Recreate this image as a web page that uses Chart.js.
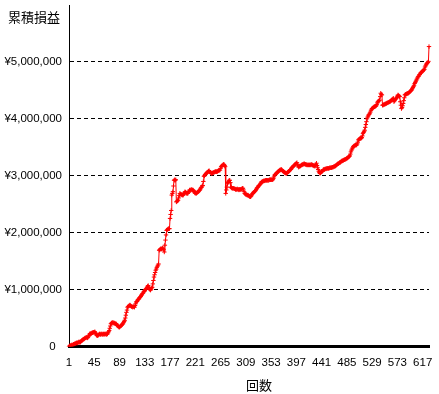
<!DOCTYPE html>
<html><head><meta charset="utf-8">
<script src="https://cdn.jsdelivr.net/npm/chart.js@4/dist/chart.umd.min.js"></script>
<style>html,body{margin:0;padding:0;background:#fff}canvas{display:block}</style>
</head><body>
<canvas id="c" width="439" height="394"></canvas>
<script>
const yAxisTitle = '累積損益';
const xAxisTitle = '回数';
// cumulative profit, in units of 10,000 yen (万円), one value per trade
const profitMan = [
0,1,1,2,2,3,2,3,4,4,5,5,6,6,7,6,7,8,8,7,
8,9,10,11,12,13,13,14,15,15,16,16,15,16,18,20,22,23,22,23,
24,24,25,25,25,26,24,22,20,19,19,20,21,22,22,21,22,22,21,22,
22,21,22,22,22,21,22,22,24,26,28,32,36,40,41,42,42,41,42,41,
40,40,40,39,37,36,35,34,34,35,36,37,38,39,40,42,44,46,50,55,
60,64,69,70,71,72,73,72,71,70,70,69,70,70,69,72,75,78,79,80,
82,83,84,86,87,88,90,91,93,94,96,97,98,100,101,102,104,106,107,104,
101,100,99,101,103,104,110,116,122,126,130,134,136,139,141,143,145,169,170,171,
172,171,172,173,172,170,166,178,187,196,204,205,206,207,207,207,225,232,239,266,
269,272,282,292,293,292,293,254,255,256,257,261,265,269,268,267,267,266,266,266,
268,270,272,271,270,269,269,269,271,273,275,274,275,276,275,275,275,274,272,270,
269,270,269,270,271,272,273,274,275,277,279,280,282,283,290,299,300,302,303,304,
305,306,307,308,309,307,306,305,304,304,305,305,306,306,307,307,308,307,307,308,
309,309,310,310,313,316,317,318,319,320,320,318,316,269,275,280,286,288,290,292,
292,288,280,279,278,278,278,278,277,277,276,276,276,277,276,276,275,276,276,276,
276,277,278,278,275,272,269,268,267,267,266,266,266,265,264,263,263,264,266,268,
269,270,271,272,273,274,276,278,279,280,282,283,284,285,287,289,289,290,290,291,
291,291,292,292,292,292,292,292,292,293,293,293,293,293,293,293,295,298,301,302,
303,304,305,306,307,308,309,310,310,311,311,310,309,308,307,306,305,305,304,304,
305,306,307,308,309,310,311,312,314,315,316,317,318,319,320,321,322,323,320,317,
315,316,317,317,318,319,319,320,320,321,321,320,320,320,319,319,319,319,319,319,
319,319,320,319,319,318,318,317,317,318,320,322,318,314,311,308,306,304,305,306,
307,308,309,311,311,311,312,312,312,313,313,313,313,313,314,314,314,314,315,315,
315,316,316,317,317,318,319,320,321,321,322,323,323,324,325,326,326,327,327,328,
328,329,329,330,331,331,332,333,334,335,338,342,345,347,349,351,352,353,353,354,
354,354,356,359,363,364,365,365,366,366,367,370,374,376,378,380,385,390,395,400,
403,405,407,408,410,412,415,417,418,419,420,421,421,422,422,423,425,428,430,431,
432,433,439,445,443,442,424,424,425,425,426,426,427,427,428,428,429,429,430,430,
431,432,433,434,435,436,430,432,434,435,436,438,440,442,441,440,439,430,424,418,
420,423,427,432,437,442,443,443,444,444,445,445,446,447,448,449,450,451,453,455,
457,459,462,464,466,468,470,472,474,475,477,478,480,481,482,483,484,485,486,487,
491,493,495,497,498,499,501,527
];
const categories = profitMan.map((_, i) => String(i + 1));
const xLabelEvery = 44;
const yMin = 0, yMax = 6000000, yStep = 1000000;

const tickFont = {family: '"Liberation Sans", Arial, sans-serif', size: 11.5};

const titlePlugin = {
  id: 'titles',
  beforeDraw(chart) {
    const c = chart.ctx; c.save(); c.fillStyle = '#fff';
    c.fillRect(0, 0, chart.width, chart.height); c.restore();
  },
  afterDraw(chart) {
    const c = chart.ctx; c.save();
    c.fillStyle = '#000';
    c.font = '13px "Noto Sans CJK JP", sans-serif';
    c.textBaseline = 'middle';
    c.textAlign = 'left';
    c.fillText(yAxisTitle, 8, 17);
    c.textAlign = 'center';
    c.fillText(xAxisTitle, 259, 385);
    c.restore();
  }
};

new Chart(document.getElementById('c'), {
  type: 'line',
  data: {
    labels: categories,
    datasets: [{
      data: profitMan.map(v => v * 10000),
      borderColor: '#ff0000',
      backgroundColor: '#ff0000',
      borderWidth: 1,
      pointStyle: 'cross',
      pointRadius: 2.2,
      pointBorderWidth: 1,
      pointBorderColor: '#ff0000',
      tension: 0,
      fill: false
    }]
  },
  options: {
    responsive: false,
    animation: false,
    events: [],
    layout: {padding: {top: 5, right: 10, bottom: 0, left: 0}},
    plugins: {legend: {display: false}, tooltip: {enabled: false}},
    scales: {
      x: {
        type: 'category',
        offset: false,
        grid: {display: false, drawTicks: false},
        border: {display: true, color: '#000', width: 3},
        ticks: {
          autoSkip: false, maxRotation: 0, minRotation: 0, padding: 9,
          color: '#000', font: tickFont,
          callback: function (v, i) { return i % xLabelEvery === 0 ? this.getLabelForValue(v) : ''; }
        },
        afterFit(s) { s.height = 47.5; }
      },
      y: {
        min: yMin, max: yMax,
        ticks: {
          stepSize: yStep, padding: 7, color: '#000', font: tickFont,
          callback: v => v === 0 ? '0  ' : (v >= yMax ? '' : '¥' + v.toLocaleString('en-US'))
        },
        grid: {
          drawTicks: false, lineWidth: 1,
          color: c => (c.tick && (c.tick.value === 0 || c.tick.value === yMax)) ? 'rgba(0,0,0,0)' : '#000'
        },
        border: {display: true, color: '#000', width: 1, dash: [4, 3]},
        afterFit(s) { s.width = 69; s.paddingTop = 0; s.paddingBottom = 0; }
      }
    }
  },
  plugins: [titlePlugin]
});
</script>
</body></html>
